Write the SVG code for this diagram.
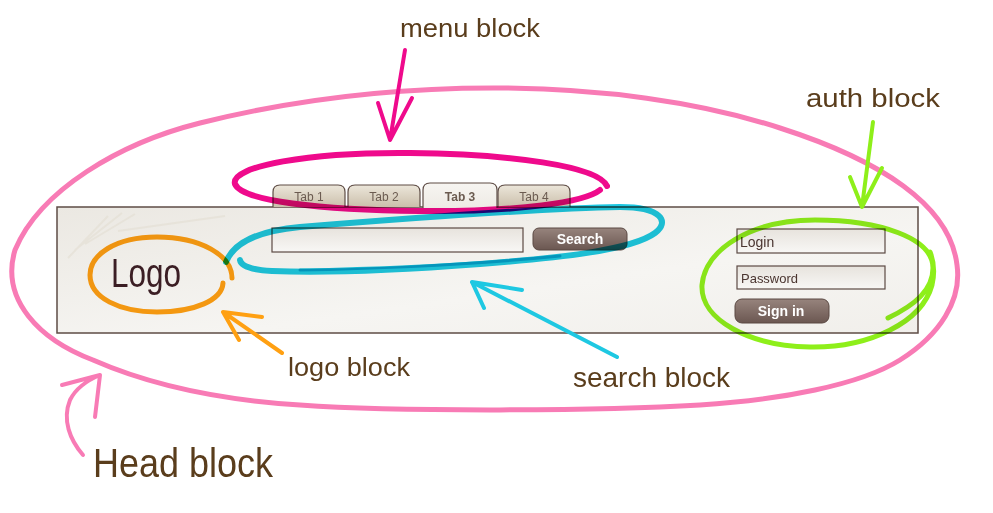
<svg xmlns="http://www.w3.org/2000/svg" width="993" height="513" viewBox="0 0 993 513">
<style>
.lbl{font-family:"Liberation Sans","DejaVu Sans",sans-serif;fill:#5a3d1c;}
.ui{font-family:"Liberation Sans","DejaVu Sans",sans-serif;}
.tabt{font-family:"Liberation Sans",sans-serif;font-size:12px;fill:#6b5b50;text-anchor:middle;}
.inp{fill:url(#gInp);stroke:#5c4a44;stroke-width:1.2;}
.btn{fill:url(#gBtn);stroke:#5a4842;stroke-width:1;}
.btnt{font-family:"Liberation Sans",sans-serif;font-size:14px;font-weight:bold;fill:#ffffff;text-anchor:middle;}
.mk{fill:none;stroke-linecap:round;stroke-linejoin:round;mix-blend-mode:multiply;}
.arr{fill:none;stroke-linecap:round;stroke-linejoin:round;stroke-width:4;}
</style>
<defs>
<linearGradient id="gPanel" x1="0" y1="0" x2="1" y2="1">
<stop offset="0" stop-color="#ebe8e2"/><stop offset="0.6" stop-color="#f6f5f2"/><stop offset="1" stop-color="#f1efeb"/>
</linearGradient>
<linearGradient id="gTab" x1="0" y1="0" x2="0" y2="1">
<stop offset="0" stop-color="#ece6da"/><stop offset="1" stop-color="#cbbfab"/>
</linearGradient>
<linearGradient id="gTabA" x1="0" y1="0" x2="0" y2="1">
<stop offset="0" stop-color="#f7f5f1"/><stop offset="1" stop-color="#eeebe5"/>
</linearGradient>
<linearGradient id="gInp" x1="0" y1="0" x2="0" y2="1">
<stop offset="0" stop-color="#e7e3dd"/><stop offset="1" stop-color="#f8f7f5"/>
</linearGradient>
<linearGradient id="gBtn" x1="0" y1="0" x2="0" y2="1">
<stop offset="0" stop-color="#97847d"/><stop offset="1" stop-color="#6b5751"/>
</linearGradient>
</defs>
<rect width="993" height="513" fill="#ffffff"/>

<g id="panel">
<rect x="57" y="207" width="861" height="126" fill="url(#gPanel)" stroke="#5e4c45" stroke-width="1.5"/>
<path d="M68,258 L108,216 M75,250 L122,213 M85,244 L135,214 M118,231 L225,216" stroke="#e2ddd2" stroke-width="2" fill="none" opacity="0.6"/>
</g>

<g id="menu">
<path d="M273,207 L273,192 Q273,185 280,185 L338,185 Q345,185 345,192 L345,207" fill="url(#gTab)" stroke="#5e4c45" stroke-width="1.2"/>
<text class="tabt" x="309" y="201">Tab 1</text>
<path d="M348,207 L348,192 Q348,185 355,185 L413,185 Q420,185 420,192 L420,207" fill="url(#gTab)" stroke="#5e4c45" stroke-width="1.2"/>
<text class="tabt" x="384" y="201">Tab 2</text>
<path d="M498,207 L498,192 Q498,185 505,185 L563,185 Q570,185 570,192 L570,207" fill="url(#gTab)" stroke="#5e4c45" stroke-width="1.2"/>
<text class="tabt" x="534" y="201">Tab 4</text>
<path d="M423,208 L423,190 Q423,183 430,183 L490,183 Q497,183 497,190 L497,208 Z" fill="url(#gTabA)" stroke="none"/>
<path d="M423,208 L423,190 Q423,183 430,183 L490,183 Q497,183 497,190 L497,208" fill="none" stroke="#5e4c45" stroke-width="1.2"/>
<text class="tabt" x="460" y="201" font-weight="bold">Tab 3</text>
</g>

<g id="search">
<rect class="inp" x="272" y="228" width="251" height="24"/>
<rect class="btn" x="533" y="228" width="94" height="22" rx="6"/>
<text class="btnt" x="580" y="244">Search</text>
</g>

<g id="logo">
<text class="ui" x="111" y="287" font-size="40" fill="#3b1e24" textLength="70" lengthAdjust="spacingAndGlyphs">Logo</text>
</g>

<g id="auth">
<rect class="inp" x="737" y="229" width="148" height="24"/>
<text class="ui" x="740" y="247" font-size="14" fill="#4a3530">Login</text>
<rect class="inp" x="737" y="266" width="148" height="23"/>
<text class="ui" x="741" y="283" font-size="13.5" fill="#4a3530" textLength="57" lengthAdjust="spacingAndGlyphs">Password</text>
<rect class="btn" x="735" y="299" width="94" height="24" rx="7"/>
<text class="btnt" x="781" y="316">Sign in</text>
</g>

<g id="menu-block">
<path class="mk" stroke="#ef0a8c" stroke-width="6" d="M600,190 C585,202 520,212 420,211 C320,210 242,201 235,184 C230,166 310,152 410,153 C510,154 598,166 607,186"/>
<text class="lbl" x="400" y="37" font-size="26" textLength="140" lengthAdjust="spacingAndGlyphs">menu block</text>
</g>

<g id="search-block">
<path class="mk" stroke="#1ec8e2" stroke-width="6" d="M226,262 C234,242 258,231 300,227 C400,219 550,208 620,207 C662,207 670,222 655,233 C632,250 560,258 480,264 C400,270 320,273 272,271 C252,270 241,266 240,260"/>
<path class="mk" stroke="#1ec8e2" stroke-width="3" d="M560,256 C480,264 400,268 300,270"/>
<text class="lbl" x="573" y="387" font-size="28" textLength="157" lengthAdjust="spacingAndGlyphs">search block</text>
</g>

<g id="logo-block">
<path class="mk" stroke="#ffa012" stroke-width="5" d="M232,278 C232,255 200,237 157,237 C115,237 90,255 90,275 C90,298 120,312 157,312 C195,312 222,300 223,283"/>
<text class="lbl" x="288" y="376" font-size="26" textLength="122" lengthAdjust="spacingAndGlyphs">logo block</text>
</g>

<g id="auth-block">
<path class="mk" stroke="#8eef1a" stroke-width="5" d="M888,318 C915,305 933,290 933,268 C933,238 880,220 815,220 C750,220 705,250 702,285 C700,320 750,346 810,347 C870,348 922,322 932,285 C935,272 934,262 930,252"/>
<text class="lbl" x="806" y="107" font-size="26" textLength="134" lengthAdjust="spacingAndGlyphs">auth block</text>
</g>

<g id="head-block">
<path class="mk" stroke="#f87bb5" stroke-width="5" d="M957,265 C950,205 880,160 780,128 C700,102 600,88 493,88 C380,88 280,103 200,123 C120,143 40,190 15,250 C0,300 40,340 93,360 C150,385 220,400 300,405 C400,412 600,411 700,405 C780,400 860,385 900,360 C940,335 962,300 957,265"/>
<text class="lbl" x="93" y="477" font-size="40" textLength="180" lengthAdjust="spacingAndGlyphs">Head block</text>
</g>

<g id="connectors">
<path class="arr" stroke="#ef0a8c" d="M405,50 L390,140 M378,103 L390,140 L412,98"/>
<path class="arr" stroke="#1ec8e2" d="M617,357 L472,282 M522,290 L472,282 L484,308"/>
<path class="arr" stroke="#ffa012" d="M282,353 L223,312 M262,317 L223,312 L239,340"/>
<path class="arr" stroke="#8eef1a" d="M873,122 L862,207 M850,177 L862,207 L882,168"/>
<path class="arr" stroke="#f87bb5" d="M83,455 C70,440 62,420 70,400 C76,388 88,380 100,375 M62,385 L100,375 L95,417"/>
</g>
</svg>
